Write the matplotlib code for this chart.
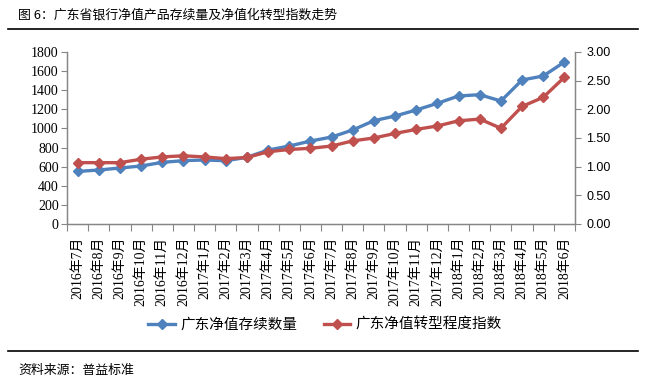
import matplotlib
matplotlib.use("Agg")
import matplotlib.pyplot as plt
from matplotlib.lines import Line2D
from matplotlib.ticker import FixedLocator

plt.rcParams['font.family'] = ['Liberation Serif', 'Noto Sans CJK SC']

months = ["2016年7月", "2016年8月", "2016年9月", "2016年10月", "2016年11月", "2016年12月",
          "2017年1月", "2017年2月", "2017年3月", "2017年4月", "2017年5月", "2017年6月",
          "2017年7月", "2017年8月", "2017年9月", "2017年10月", "2017年11月", "2017年12月",
          "2018年1月", "2018年2月", "2018年3月", "2018年4月", "2018年5月", "2018年6月"]
count_values = [550, 565, 586, 607, 645, 663, 670, 662, 698, 774, 816, 868,
                910, 984, 1081, 1130, 1193, 1263, 1340, 1353, 1287, 1507, 1549, 1695]
index_values = [1.07, 1.07, 1.07, 1.13, 1.17, 1.19, 1.17, 1.14, 1.16, 1.26, 1.30, 1.32,
                1.36, 1.45, 1.50, 1.58, 1.65, 1.71, 1.80, 1.83, 1.67, 2.05, 2.21, 2.56]
left_ticks = [0, 200, 400, 600, 800, 1000, 1200, 1400, 1600, 1800]
right_ticks = [0.0, 0.5, 1.0, 1.5, 2.0, 2.5, 3.0]
series_names = ["广东净值存续数量", "广东净值转型程度指数"]
title = "图 6：广东省银行净值产品存续量及净值化转型指数走势"
source = "资料来源：普益标准"

blue = "#4F81BD"
red = "#C0504D"
grey = "#868686"

W, H = 650, 386
fig = plt.figure(figsize=(W / 100, H / 100), dpi=100)
ax = fig.add_axes([67 / W, 1 - 224 / H, (575 - 67) / W, (224 - 52) / H])
ax2 = ax.twinx()

x = list(range(len(months)))
ax.plot(x, count_values, color=blue, lw=2.4, marker='D', ms=5, zorder=3)
ax2.plot(x, index_values, color=red, lw=2.4, marker='D', ms=5, zorder=3)

ax.set_xlim(-0.5, len(months) - 0.5)
ax.set_ylim(0, 1800)
ax2.set_ylim(0, 3.0)
ax.set_yticks(left_ticks)
ax.set_yticklabels([str(v) for v in left_ticks], fontsize=10, family='Liberation Serif')
ax2.set_yticks(right_ticks)
ax2.set_yticklabels([f"{v:.2f}" for v in right_ticks], fontsize=9, family='Liberation Sans')

ax.set_xticks(x)
ax.set_xticklabels(months, rotation=90, fontsize=10)
ax.xaxis.set_minor_locator(FixedLocator([i - 0.5 for i in range(len(months) + 1)]))
ax.tick_params(axis='x', which='major', length=0, pad=9)
ax.tick_params(axis='x', which='minor', length=5, color=grey, width=0.8)
ax.tick_params(axis='y', length=4, color=grey, width=0.8, pad=2)
ax2.tick_params(axis='y', length=4, color=grey, width=0.8, pad=4)

for a in (ax, ax2):
    a.spines['top'].set_visible(False)
    for s in ('left', 'right', 'bottom'):
        a.spines[s].set_color(grey)
        a.spines[s].set_linewidth(0.9)

fig.text(18 / W, 1 - 15 / H, title, fontsize=9.3, va='center', ha='left',
         family=['Noto Sans CJK SC'])
fig.add_artist(Line2D([8 / W, 638 / W], [1 - 29 / H] * 2, color='black', lw=1.2))
fig.add_artist(Line2D([8 / W, 638 / W], [1 - 351 / H] * 2, color='black', lw=1.2))
fig.text(18 / W, 1 - 370 / H, source, fontsize=9.3, va='center', ha='left',
         family=['Noto Sans CJK SC'])

handles = [Line2D([], [], color=blue, lw=2.4, marker='D', ms=5),
           Line2D([], [], color=red, lw=2.4, marker='D', ms=5)]
fig.legend(handles, series_names, loc='center', bbox_to_anchor=(0.5, 1 - 325 / H),
           ncol=2, frameon=False, handlelength=1.85, handletextpad=0.35,
           columnspacing=1.8, prop={'family': ['Noto Sans CJK SC'], 'size': 10.5})

fig.savefig("out.png", dpi=100)
